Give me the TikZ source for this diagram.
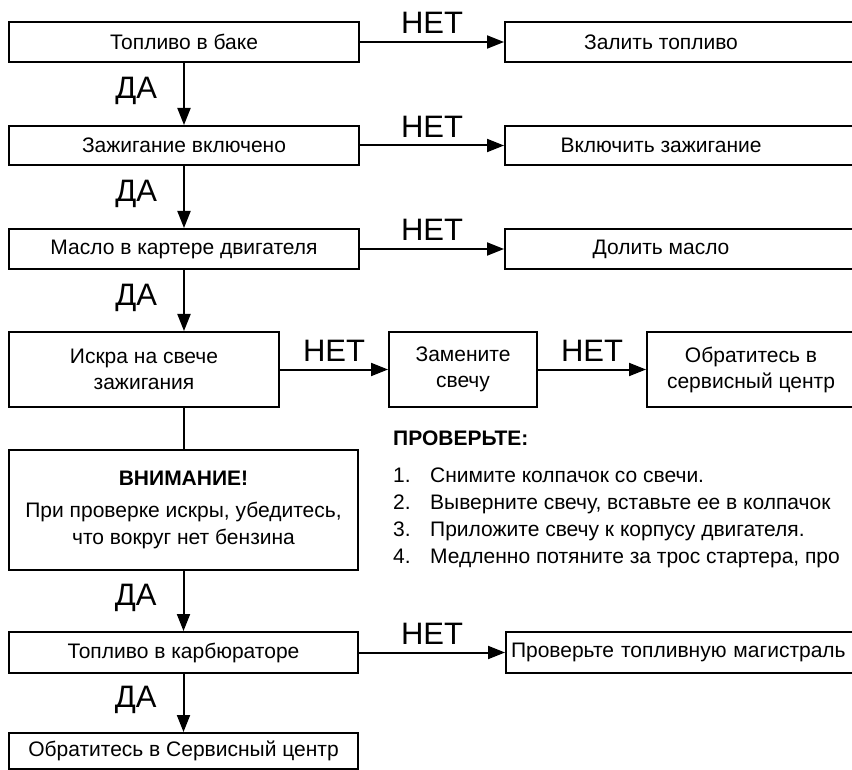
\documentclass[tikz,border=0pt]{standalone}
\usepackage{fontspec}
\setmainfont{Liberation Sans}
\usepackage{tikz}
\usetikzlibrary{arrows.meta,positioning}

\tikzset{
  box/.style={draw, line width=2pt, inner sep=0pt, align=center,
    minimum height=40pt, font=\fontsize{21}{26}\selectfont},
  sidebox/.style={box, anchor=west, minimum width=400pt},
  arr/.style={line width=2pt, -{Triangle[length=17pt,width=13pt]}},
  nolbl/.style={midway, above, inner sep=7pt, font=\fontsize{31}{31}\selectfont},
  yeslbl/.style={midway, left=24pt, inner sep=2pt, yshift=3pt, font=\fontsize{31}{31}\selectfont},
  listtxt/.style={anchor=base west, inner sep=0pt, font=\fontsize{21}{26}\selectfont}
}

\begin{document}
\begin{tikzpicture}[x=1pt,y=1pt,yscale=-1,xscale=1]
    \useasboundingbox (0,0) rectangle (852,770);
    \clip (0,0) rectangle (852,770);
    % main column
    \node[box, minimum width=350pt] (tank) at (184,42) {Топливо в баке};
    \node[box, minimum width=350pt, minimum height=39pt] (ignition) at (184,145.5) {Зажигание включено};
    \node[box, minimum width=350pt] (oil) at (184,249) {Масло в картере двигателя};
    \node[box, minimum width=270pt, minimum height=75pt] (spark) at (144,369.5) {Искра на свече\\зажигания};
    \node[box, minimum width=349pt, minimum height=120pt, font=\fontsize{21}{27}\selectfont] (warn) at (183.5,510)
      {\textbf{ВНИМАНИЕ!}\\[5pt]При проверке искры, убедитесь,\\что вокруг нет бензина};
    \node[box, minimum width=349pt, minimum height=41pt] (carb) at (183.5,652.5) {Топливо в карбюраторе};
    \node[box, minimum width=349pt, minimum height=36pt] (service) at (183.5,751) {Обратитесь в Сервисный центр};
    % answers on the right
    \node[sidebox, label={[anchor=center, xshift=-44pt, font=\fontsize{21}{26}\selectfont]center:Залить топливо}] (fill) at (504,42) {};
    \node[sidebox, minimum height=39pt, label={[anchor=center, xshift=-44pt, font=\fontsize{21}{26}\selectfont]center:Включить зажигание}] (switch) at (504,145.5) {};
    \node[sidebox, label={[anchor=center, xshift=-44pt, font=\fontsize{21}{26}\selectfont]center:Долить масло}] (refill) at (504,249) {};
    \node[box, minimum width=148pt, minimum height=75pt] (plug) at (463,369.5) {Замените\\свечу};
    \node[sidebox, minimum width=300pt, minimum height=75pt, label={[anchor=center, xshift=-46pt, align=center, font=\fontsize{21}{26}\selectfont]center:Обратитесь в\\сервисный центр}] (center) at (646,369.5) {};
    \node[sidebox, minimum height=41pt, text width=390pt, inner xsep=5pt, align=left] (line) at (505,652.5) {Проверьте топливную магистраль};
    % arrows
    \draw[arr] (tank) -- node[nolbl] {НЕТ} (fill);
    \draw[arr] (ignition) -- node[nolbl] {НЕТ} (switch);
    \draw[arr] (oil) -- node[nolbl] {НЕТ} (refill);
    \draw[arr] (spark) -- node[nolbl] {НЕТ} (plug);
    \draw[arr] (plug) -- node[nolbl] {НЕТ} (center);
    \draw[arr] (carb) -- node[nolbl] {НЕТ} (line);
    \draw[arr] (tank) -- node[yeslbl] {ДА} (ignition);
    \draw[arr] (ignition) -- node[yeslbl] {ДА} (oil);
    \draw[arr] (oil.south) -- node[yeslbl] {ДА} (oil.south |- spark.north);
    \draw[line width=2pt] (warn.north |- spark.south) -- (warn.north);
    \draw[arr] (warn) -- node[yeslbl] {ДА} (carb);
    \draw[arr] (carb) -- node[yeslbl] {ДА} (service);
    % check list
    \node[listtxt, font=\fontsize{21}{26}\selectfont\bfseries] (check) at (393,445) {ПРОВЕРЬТЕ:};
    \foreach \n/\step [count=\i] in {1/{Снимите колпачок со свечи.}, 2/{Выверните свечу, вставьте ее в колпачок}, 3/{Приложите свечу к корпусу двигателя.}, 4/{Медленно потяните за трос стартера, про}}
      {
      \node[listtxt] (num\i) at (393,{482+27*(\i-1)}) {\n.};
      \node[listtxt] (item\i) at (430,{482+27*(\i-1)}) {\step};
      }
\end{tikzpicture}
\end{document}
